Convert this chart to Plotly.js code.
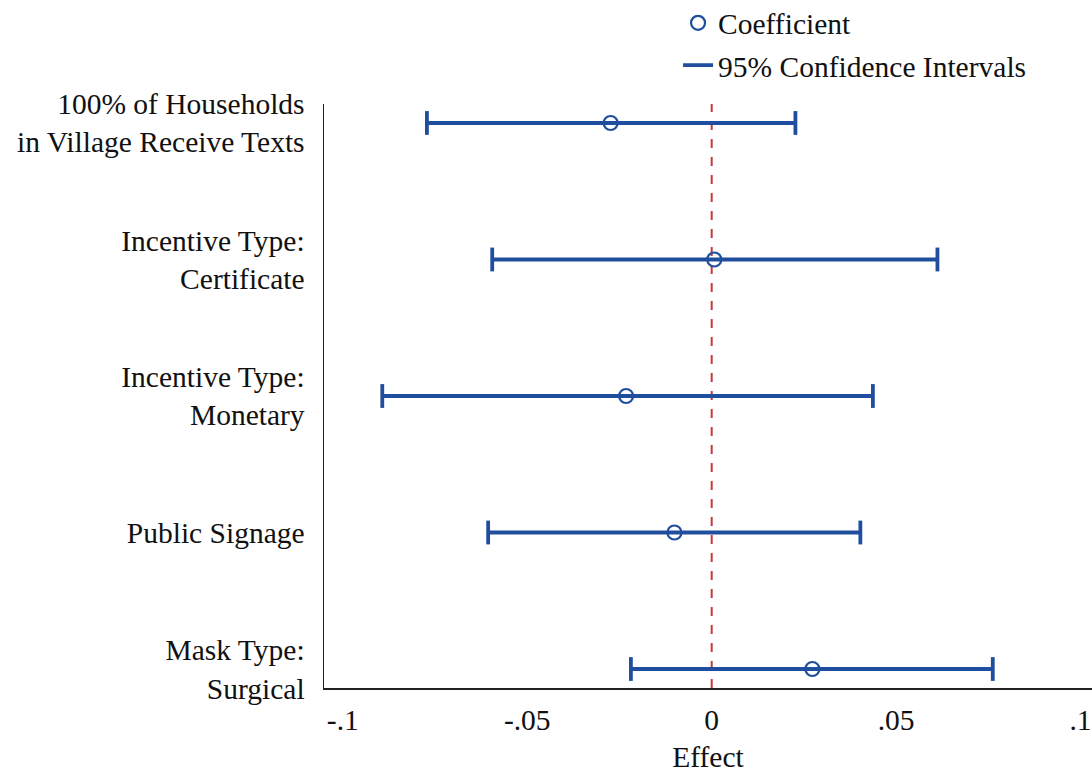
<!DOCTYPE html>
<html>
<head>
<meta charset="utf-8">
<script src="https://cdn.plot.ly/plotly-3.0.1.min.js"></script>
<style>html,body{margin:0;padding:0;background:#fff;}#chart{width:1092px;height:773px;}</style>
</head>
<body>
<div id="chart"></div>
<script>
const categories = [
  "100% of Households<br>in Village Receive Texts",
  "Incentive Type:<br>Certificate",
  "Incentive Type:<br>Monetary",
  "Public Signage",
  "Mask Type:<br>Surgical"
];
const positions = [5, 4, 3, 2, 1];
const coefficient = [-0.0274, 0.0007, -0.0232, -0.0101, 0.0273];
const ciLow = [-0.0772, -0.0595, -0.0893, -0.0606, -0.0219];
const ciHigh = [0.0227, 0.0612, 0.0437, 0.0403, 0.0762];
const xTickVals = [-0.1, -0.05, 0, 0.05, 0.1];
const xTickText = ["-.1", "-.05", "0", ".05", ".1"];

const blue = "#1f4e9e";
const font = "'Liberation Serif', 'Times New Roman', serif";
const fs = 29.5;

// CI segments built from the low/high arrays
const segX = [], segY = [], capX = [], capY = [];
positions.forEach((p, i) => {
  segX.push(ciLow[i], ciHigh[i], null);
  segY.push(p, p, null);
  capX.push(ciLow[i], ciHigh[i]);
  capY.push(p, p);
});

const ciTrace = {
  type: "scatter", mode: "lines", name: "95% Confidence Intervals",
  x: segX, y: segY,
  line: {color: blue, width: 3.8},
  legendrank: 2, legendgroup: "ci", hoverinfo: "skip"
};
const capTrace = {
  type: "scatter", mode: "markers", showlegend: false,
  x: capX, y: capY,
  marker: {symbol: "line-ns", size: 17, color: blue, line: {width: 3.8, color: blue}},
  hoverinfo: "skip"
};
const coefTrace = {
  type: "scatter", mode: "markers", name: "Coefficient",
  x: coefficient, y: positions,
  marker: {symbol: "circle-open", size: 14, color: blue, line: {width: 2.2, color: blue}},
  legendrank: 1, legendgroup: "coef"
};

const layout = {
  width: 1092, height: 773,
  margin: {l: 324, r: 0, t: 104, b: 85, autoexpand: false},
  paper_bgcolor: "#fff", plot_bgcolor: "#fff",
  font: {family: font, size: fs, color: "#111"},
  showlegend: true,
  legend: {x: 0.461, xanchor: "left", y: 1.183, yanchor: "top", tracegroupgap: 1,
    font: {family: font, size: fs, color: "#111"}, bgcolor: "rgba(0,0,0,0)"},
  xaxis: {
    range: [-0.1051, 0.1031], tickvals: xTickVals, ticktext: xTickText,
    showgrid: false, zeroline: false, showline: true, linecolor: "#222", linewidth: 1.5,
    ticks: "", ticklabelstandoff: 5,
    title: {text: "Effect", font: {family: font, size: fs, color: "#111"}, standoff: 27}
  },
  yaxis: {
    range: [0.861, 5.139], tickvals: positions, ticktext: categories,
    showgrid: false, zeroline: false, showline: true, linecolor: "#222", linewidth: 1.5,
    ticks: "", ticklabelstandoff: 12
  },
  shapes: [{type: "line", xref: "x", yref: "paper", x0: 0, x1: 0, y0: 0, y1: 1,
    line: {color: "#c8383f", width: 2, dash: "dash"}, layer: "below"}]
};

Plotly.newPlot("chart", [ciTrace, capTrace, coefTrace], layout, {displayModeBar: false, staticPlot: true});
</script>
</body>
</html>
